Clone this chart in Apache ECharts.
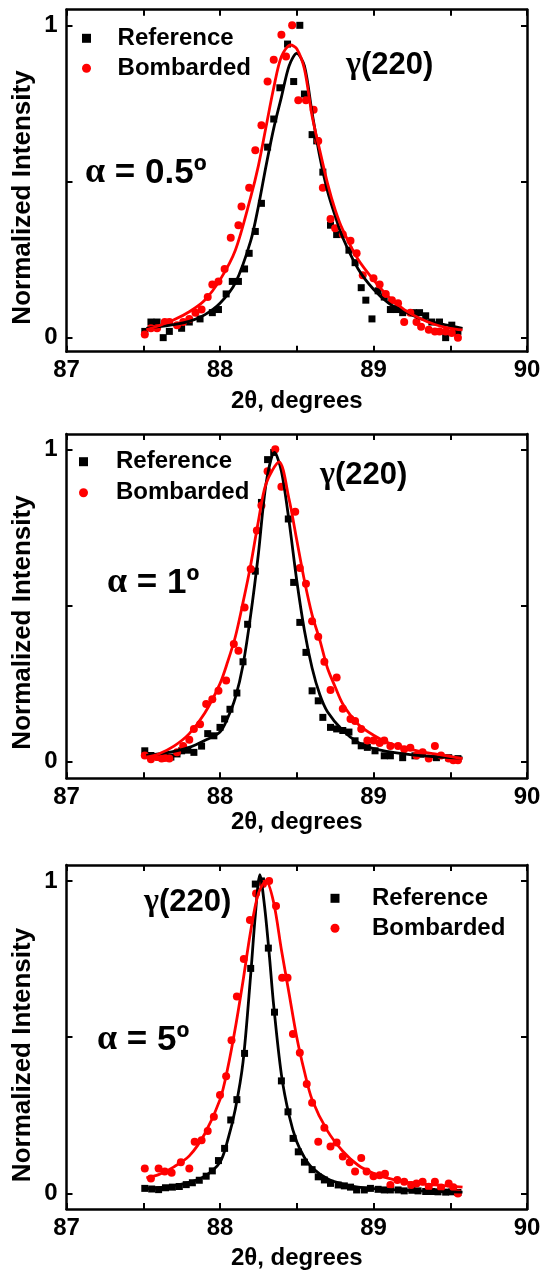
<!DOCTYPE html>
<html><head><meta charset="utf-8">
<script src="https://cdn.jsdelivr.net/npm/echarts@6/dist/echarts.min.js"></script>
<style>html,body{margin:0;padding:0;background:#fff}#c{width:545px;height:1273px}</style>
</head><body><div id="c"></div>
<script>
// ---------- tick values / labels ----------
const xTickValues = [87, 87.5, 88, 88.5, 89, 89.5, 90];
const xLabelValues = [87, 88, 89, 90];
const yTickValues = [0, 0.5, 1];
const yLabelValues = [0, 1];
const seriesNames = ['Reference', 'Bombarded'];
const xAxisName = '2θ, degrees';
const yAxisName = 'Normalized Intensity';
const peakName = '(220)';
const angleTexts = [' = 0.5º', ' = 1º', ' = 5º'];

// ---------- panel 1 : alpha = 0.5 ----------
const ref05 = [[87.51,0.02],[87.55,0.05],[87.59,0.05],[87.63,0.0],[87.67,0.02],[87.75,0.03],[87.8,0.05],[87.87,0.06],[87.95,0.08],[87.99,0.09],[88.04,0.14],[88.08,0.18],[88.12,0.18],[88.16,0.22],[88.19,0.27],[88.23,0.34],[88.27,0.43],[88.31,0.61],[88.35,0.7],[88.39,0.8],[88.44,0.94],[88.48,0.82],[88.52,1.0],[88.55,0.78],[88.6,0.65],[88.63,0.63],[88.67,0.53],[88.72,0.36],[88.76,0.33],[88.84,0.28],[88.88,0.24],[88.92,0.16],[88.95,0.12],[88.99,0.06],[89.03,0.15],[89.07,0.13],[89.11,0.09],[89.15,0.09],[89.19,0.08],[89.26,0.08],[89.3,0.08],[89.34,0.07],[89.38,0.05],[89.43,0.05],[89.47,0.0],[89.51,0.04],[89.55,0.02]];
const bomb05 = [[87.51,0.01],[87.55,0.03],[87.59,0.03],[87.64,0.05],[87.67,0.05],[87.72,0.04],[87.76,0.05],[87.8,0.06],[87.84,0.08],[87.88,0.09],[87.92,0.13],[87.95,0.17],[87.99,0.18],[88.03,0.22],[88.07,0.32],[88.12,0.36],[88.14,0.42],[88.19,0.48],[88.23,0.6],[88.27,0.68],[88.31,0.82],[88.35,0.89],[88.4,0.97],[88.43,0.9],[88.47,1.0],[88.51,0.76],[88.56,0.76],[88.61,0.73],[88.64,0.63],[88.67,0.48],[88.72,0.38],[88.75,0.35],[88.8,0.33],[88.85,0.31],[88.89,0.27],[88.93,0.2],[89.0,0.19],[89.04,0.17],[89.08,0.14],[89.12,0.12],[89.16,0.11],[89.2,0.05],[89.24,0.08],[89.28,0.05],[89.31,0.035],[89.36,0.025],[89.4,0.02],[89.43,0.02],[89.47,0.02],[89.51,0.015],[89.55,0.0]];
const refFit05 = [[87.52,0.03],[87.6,0.035],[87.7,0.042],[87.8,0.052],[87.9,0.073],[88.0,0.11],[88.1,0.175],[88.2,0.31],[88.25,0.42],[88.3,0.55],[88.35,0.67],[88.4,0.77],[88.45,0.87],[88.5,0.91],[88.55,0.87],[88.6,0.72],[88.65,0.58],[88.7,0.47],[88.75,0.39],[88.8,0.32],[88.9,0.22],[89.0,0.155],[89.1,0.11],[89.2,0.085],[89.3,0.062],[89.4,0.048],[89.5,0.038],[89.58,0.03]];
const bombFit05 = [[87.52,0.025],[87.6,0.038],[87.7,0.057],[87.8,0.083],[87.9,0.12],[88.0,0.185],[88.1,0.28],[88.2,0.45],[88.25,0.55],[88.3,0.675],[88.35,0.8],[88.4,0.9],[88.46,0.937],[88.5,0.925],[88.55,0.86],[88.6,0.71],[88.65,0.6],[88.7,0.495],[88.75,0.41],[88.8,0.345],[88.9,0.25],[89.0,0.185],[89.1,0.13],[89.2,0.09],[89.3,0.062],[89.4,0.042],[89.5,0.03],[89.58,0.025]];

// ---------- panel 2 : alpha = 1 ----------
const ref1 = [[87.51,0.035],[87.55,0.02],[87.6,0.015],[87.64,0.02],[87.68,0.015],[87.72,0.025],[87.75,0.035],[87.79,0.037],[87.83,0.03],[87.88,0.05],[87.92,0.09],[87.96,0.083],[88.0,0.11],[88.03,0.137],[88.065,0.168],[88.11,0.22],[88.15,0.32],[88.18,0.44],[88.23,0.61],[88.27,0.83],[88.31,0.967],[88.35,0.99],[88.445,0.777],[88.48,0.574],[88.52,0.446],[88.56,0.35],[88.6,0.227],[88.64,0.195],[88.67,0.142],[88.72,0.11],[88.76,0.105],[88.8,0.1],[88.84,0.095],[88.88,0.067],[88.92,0.051],[88.96,0.046],[89.01,0.035],[89.07,0.019],[89.11,0.019],[89.19,0.013],[89.27,0.019],[89.31,0.024],[89.41,0.013],[89.49,0.013],[89.55,0.01]];
const bomb1 = [[87.51,0.02],[87.55,0.008],[87.59,0.015],[87.62,0.01],[87.64,0.012],[87.67,0.01],[87.72,0.03],[87.76,0.05],[87.8,0.07],[87.83,0.105],[87.87,0.12],[87.91,0.185],[87.95,0.2],[87.99,0.227],[88.04,0.26],[88.09,0.377],[88.12,0.355],[88.16,0.494],[88.2,0.617],[88.24,0.74],[88.27,0.82],[88.31,0.93],[88.36,1.0],[88.4,0.88],[88.49,0.8],[88.52,0.62],[88.56,0.57],[88.6,0.45],[88.64,0.4],[88.68,0.32],[88.72,0.23],[88.76,0.27],[88.8,0.17],[88.85,0.137],[88.88,0.13],[88.92,0.105],[88.96,0.068],[89.0,0.068],[89.04,0.06],[89.07,0.068],[89.11,0.05],[89.16,0.05],[89.2,0.04],[89.24,0.045],[89.28,0.02],[89.32,0.03],[89.36,0.01],[89.4,0.05],[89.44,0.02],[89.49,0.01],[89.52,0.005],[89.55,0.005]];
const refFit1 = [[87.52,0.02],[87.6,0.025],[87.7,0.033],[87.8,0.046],[87.9,0.068],[88.0,0.095],[88.05,0.14],[88.1,0.205],[88.15,0.31],[88.2,0.47],[88.25,0.665],[88.3,0.89],[88.355,0.99],[88.4,0.93],[88.45,0.77],[88.5,0.58],[88.55,0.42],[88.6,0.3],[88.65,0.215],[88.7,0.16],[88.8,0.1],[88.9,0.062],[89.0,0.042],[89.2,0.025],[89.4,0.016],[89.58,0.012]];
const bombFit1 = [[87.52,0.015],[87.6,0.025],[87.7,0.05],[87.8,0.09],[87.9,0.155],[88.0,0.25],[88.05,0.32],[88.1,0.4],[88.15,0.51],[88.2,0.63],[88.25,0.77],[88.3,0.89],[88.385,0.96],[88.45,0.84],[88.5,0.71],[88.55,0.58],[88.6,0.47],[88.65,0.39],[88.7,0.3],[88.75,0.24],[88.8,0.185],[88.9,0.12],[89.0,0.085],[89.1,0.06],[89.2,0.045],[89.3,0.033],[89.4,0.025],[89.58,0.01]];

// ---------- panel 3 : alpha = 5 ----------
const ref5 = [[87.51,0.016],[87.555,0.014],[87.6,0.012],[87.645,0.018],[87.69,0.02],[87.735,0.022],[87.78,0.028],[87.82,0.034],[87.865,0.042],[87.91,0.055],[87.95,0.072],[87.99,0.105],[88.03,0.144],[88.07,0.235],[88.11,0.3],[88.16,0.448],[88.2,0.72],[88.23,0.99],[88.27,1.0],[88.315,0.785],[88.355,0.58],[88.4,0.36],[88.443,0.261],[88.476,0.176],[88.51,0.133],[88.55,0.1],[88.6,0.076],[88.64,0.053],[88.68,0.043],[88.72,0.032],[88.77,0.027],[88.81,0.024],[88.85,0.02],[88.89,0.011],[88.94,0.011],[88.98,0.016],[89.03,0.013],[89.07,0.011],[89.11,0.011],[89.16,0.011],[89.2,0.008],[89.25,0.01],[89.29,0.008],[89.34,0.006],[89.38,0.006],[89.42,0.005],[89.47,0.004],[89.51,0.005],[89.55,0.003]];
const bomb5 = [[87.51,0.08],[87.55,0.048],[87.6,0.08],[87.64,0.07],[87.685,0.066],[87.745,0.1],[87.8,0.08],[87.835,0.165],[87.88,0.17],[87.92,0.2],[87.96,0.245],[88.0,0.315],[88.04,0.375],[88.075,0.49],[88.11,0.63],[88.155,0.75],[88.195,0.875],[88.235,0.96],[88.28,0.99],[88.32,1.0],[88.365,0.92],[88.405,0.69],[88.44,0.69],[88.475,0.51],[88.52,0.45],[88.565,0.35],[88.6,0.29],[88.64,0.165],[88.68,0.21],[88.72,0.15],[88.76,0.163],[88.8,0.118],[88.845,0.1],[88.88,0.07],[88.92,0.113],[88.955,0.07],[89.0,0.055],[89.04,0.058],[89.075,0.063],[89.11,0.027],[89.155,0.043],[89.2,0.037],[89.245,0.027],[89.28,0.032],[89.32,0.037],[89.36,0.021],[89.4,0.037],[89.44,0.019],[89.49,0.032],[89.52,0.02],[89.55,0.0]];
const refFit5 = [[87.52,0.015],[87.6,0.018],[87.7,0.025],[87.8,0.035],[87.9,0.055],[88.0,0.1],[88.05,0.17],[88.1,0.27],[88.15,0.42],[88.2,0.7],[88.23,0.89],[88.26,1.02],[88.29,0.92],[88.32,0.77],[88.35,0.6],[88.4,0.38],[88.45,0.25],[88.5,0.165],[88.55,0.115],[88.6,0.082],[88.7,0.047],[88.8,0.03],[88.9,0.02],[89.0,0.015],[89.2,0.01],[89.4,0.006],[89.58,0.004]];
const bombFit5 = [[87.52,0.05],[87.6,0.06],[87.7,0.085],[87.8,0.12],[87.9,0.19],[88.0,0.3],[88.05,0.4],[88.1,0.53],[88.15,0.68],[88.2,0.84],[88.25,0.96],[88.3,1.0],[88.35,0.93],[88.4,0.78],[88.45,0.64],[88.5,0.5],[88.55,0.39],[88.6,0.3],[88.7,0.2],[88.8,0.135],[88.9,0.09],[89.0,0.064],[89.1,0.048],[89.2,0.037],[89.3,0.031],[89.4,0.027],[89.58,0.02]];

const panelRef = [ref05, ref1, ref5];
const panelBomb = [bomb05, bomb1, bomb5];
const panelRefFit = [refFit05, refFit1, refFit5];
const panelBombFit = [bombFit05, bombFit1, bombFit5];

// ---------- layout (positions / styles) ----------
const FONT = '"Liberation Sans", Arial, sans-serif';
const SERIF = '"Liberation Serif", "Times New Roman", serif';
const grids = [
  {left: 66.5, top: 9.7, width: 460.5, height: 342},
  {left: 66.5, top: 434, width: 460.5, height: 344.3},
  {left: 66.5, top: 865, width: 460.5, height: 344}
];
const yRanges = [[-0.045, 1.05], [-0.053, 1.049], [-0.05, 1.051]];
const nameGaps = [38, 30, 37];
const labelMargins = [7, 7, 7];
const yNamePos = [[22.5, 197.5], [22.5, 622.5], [22.5, 1055]];
const peakPos = [[346, 65], [320, 475], [144, 902]];
const anglePos = [[85, 173], [107, 583], [97, 1040]];
const legendPos = [{left: 82, top: 26.3, pad: 21.6, gap: 6}, {left: 79, top: 449.7, pad: 23, gap: 7}, {left: 330.5, top: 886.3, pad: 27.5, gap: 6}];

const lineAx = {show: true, onZero: false, lineStyle: {color: '#000', width: 2.5}};
const tickStyle = {color: '#000', width: 2};

const xAxis = [], yAxis = [], series = [], legend = [], graphic = [];
for (let i = 0; i < 3; i++) {
  xAxis.push({
    type: 'value', gridIndex: i, position: 'bottom', min: 87, max: 90, interval: 0.5,
    axisLine: lineAx,
    axisTick: {show: true, inside: true, length: 6, lineStyle: tickStyle, customValues: xTickValues},
    axisLabel: {show: true, customValues: xLabelValues, margin: labelMargins[i], color: '#000', fontSize: 24, fontWeight: 'bold', fontFamily: FONT},
    splitLine: {show: false},
    name: xAxisName, nameLocation: 'middle', nameGap: nameGaps[i],
    nameTextStyle: {color: '#000', fontSize: 24, fontWeight: 'bold', fontFamily: FONT}
  });
  xAxis.push({
    type: 'value', gridIndex: i, position: 'top', min: 87, max: 90, interval: 0.5,
    axisLine: lineAx,
    axisTick: {show: true, inside: true, length: 6, lineStyle: tickStyle, customValues: xTickValues},
    axisLabel: {show: false}, splitLine: {show: false}
  });
  yAxis.push({
    type: 'value', gridIndex: i, position: 'left', min: yRanges[i][0], max: yRanges[i][1],
    axisLine: lineAx,
    axisTick: {show: true, inside: true, length: 6, lineStyle: tickStyle, customValues: yTickValues},
    axisLabel: {show: true, customValues: yLabelValues, margin: 9, color: '#000', fontSize: 24, fontWeight: 'bold', fontFamily: FONT},
    splitLine: {show: false}
  });
  yAxis.push({
    type: 'value', gridIndex: i, position: 'right', min: yRanges[i][0], max: yRanges[i][1],
    axisLine: lineAx,
    axisTick: {show: true, inside: true, length: 6, lineStyle: tickStyle, customValues: yTickValues},
    axisLabel: {show: false}, splitLine: {show: false}
  });
  const xi = 2 * i, yi = 2 * i;
  series.push({type: 'scatter', name: seriesNames[0], xAxisIndex: xi, yAxisIndex: yi, data: panelRef[i], symbol: 'rect', symbolSize: 7, itemStyle: {color: '#000', opacity: 1}, z: 3});
  series.push({type: 'scatter', name: seriesNames[1], xAxisIndex: xi, yAxisIndex: yi, data: panelBomb[i], symbol: 'circle', symbolSize: 8, itemStyle: {color: '#ff0000', opacity: 1}, z: 3});
  series.push({type: 'line', name: 'fit-ref-' + i, xAxisIndex: xi, yAxisIndex: yi, data: panelRefFit[i], smooth: 0.3, showSymbol: false, lineStyle: {color: '#000', width: 2.8}, z: 4, silent: true});
  series.push({type: 'line', name: 'fit-bomb-' + i, xAxisIndex: xi, yAxisIndex: yi, data: panelBombFit[i], smooth: 0.3, showSymbol: false, lineStyle: {color: '#ff0000', width: 2.8}, z: 4, silent: true});
  const lp = legendPos[i];
  legend.push({
    orient: 'vertical', left: lp.left, top: lp.top, padding: 0, itemWidth: 9, itemHeight: 9, itemGap: lp.gap,
    selectedMode: false,
    textStyle: {color: '#000', fontSize: 24, fontWeight: 'bold', fontFamily: FONT, lineHeight: 24, padding: [0, 0, 0, lp.pad]},
    data: [{name: seriesNames[0], icon: 'rect', itemStyle: {opacity: 1}}, {name: seriesNames[1], icon: 'circle', itemStyle: {opacity: 1}}]
  });
  graphic.push({
    type: 'text', x: yNamePos[i][0], y: yNamePos[i][1], rotation: Math.PI / 2,
    style: {text: yAxisName, fill: '#000', fontSize: 26, fontWeight: 'bold', fontFamily: FONT, align: 'center', verticalAlign: 'middle'}
  });
  graphic.push({
    type: 'text', x: peakPos[i][0], y: peakPos[i][1],
    style: {text: '{g|γ}{b|' + peakName + '}', align: 'left', verticalAlign: 'middle',
      rich: {g: {fill: '#000', fontSize: 32, fontWeight: 'bold', fontFamily: SERIF}, b: {fill: '#000', fontSize: 31, fontWeight: 'bold', fontFamily: FONT}}}
  });
  graphic.push({
    type: 'text', x: anglePos[i][0], y: anglePos[i][1],
    style: {text: '{g|α}{b|' + angleTexts[i] + '}', align: 'left', verticalAlign: 'middle',
      rich: {g: {fill: '#000', fontSize: 36, fontWeight: 'bold', fontFamily: SERIF}, b: {fill: '#000', fontSize: 35, fontWeight: 'bold', fontFamily: FONT}}}
  });
}

const chart = echarts.init(document.getElementById('c'), null, {renderer: 'canvas'});
chart.setOption({
  animation: false,
  backgroundColor: '#fff',
  grid: grids,
  xAxis: xAxis,
  yAxis: yAxis,
  legend: legend,
  series: series,
  graphic: graphic
});
</script>
</body></html>
